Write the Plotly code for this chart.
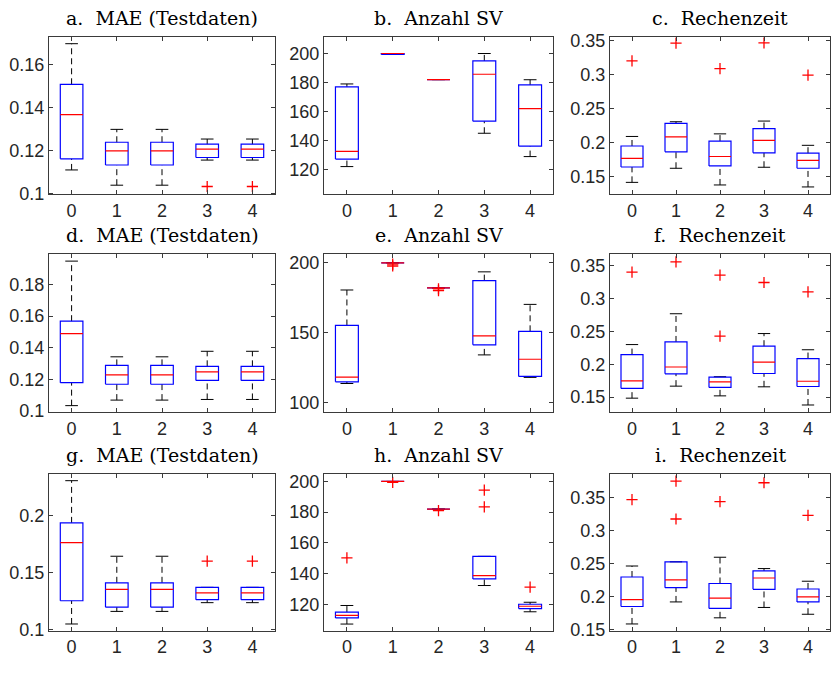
import plotly.graph_objects as go
from plotly.subplots import make_subplots

# ---------------- data ----------------
categories = ["0", "1", "2", "3", "4"]
positions = [1, 2, 3, 4, 5]

titles = [
    "a.  MAE (Testdaten)", "b.  Anzahl SV", "c.  Rechenzeit",
    "d.  MAE (Testdaten)", "e.  Anzahl SV", "f.  Rechenzeit",
    "g.  MAE (Testdaten)", "h.  Anzahl SV", "i.  Rechenzeit",
]

# lower whisker, Q1, median, Q3, upper whisker per panel (5 groups each)
whisker_low = [
    [0.1109, 0.1038, 0.1038, 0.1155, 0.1155],
    [122.0, 199.3, 182.0, 145.0, 128.9],
    [0.1413, 0.1620, 0.1375, 0.1635, 0.1346],
    [0.1035, 0.1070, 0.1070, 0.1074, 0.1074],
    [113.5, 200.0, 182.0, 134.0, 117.9],
    [0.1485, 0.1668, 0.1520, 0.1658, 0.1381],
    [0.1046, 0.1157, 0.1157, 0.1234, 0.1234],
    [107.1, 200.0, 182.0, 132.2, 115.1],
    [0.1584, 0.1918, 0.1677, 0.1834, 0.1731],
]
quart_1 = [
    [0.1161, 0.1132, 0.1132, 0.1167, 0.1167],
    [127.2, 199.3, 182.0, 153.3, 136.1],
    [0.1639, 0.1861, 0.1654, 0.1846, 0.1620],
    [0.1180, 0.1170, 0.1170, 0.1194, 0.1194],
    [114.7, 200.0, 182.0, 141.2, 118.6],
    [0.1634, 0.1856, 0.1649, 0.1861, 0.1663],
    [0.1251, 0.1194, 0.1194, 0.1260, 0.1260],
    [111.1, 200.0, 182.0, 136.5, 117.2],
    [0.1849, 0.2134, 0.1819, 0.2109, 0.1918],
]
medians = [
    [0.1367, 0.1198, 0.1198, 0.1206, 0.1206],
    [132.5, 200.0, 182.0, 185.7, 162.0],
    [0.1764, 0.2082, 0.1793, 0.2029, 0.1736],
    [0.1490, 0.1229, 0.1229, 0.1248, 0.1248],
    [118.1, 200.0, 182.0, 147.7, 130.9],
    [0.1748, 0.1960, 0.1733, 0.2035, 0.1743],
    [0.1763, 0.1351, 0.1351, 0.1320, 0.1320],
    [112.8, 200.0, 182.0, 138.6, 118.7],
    [0.1952, 0.2252, 0.1977, 0.2281, 0.1996],
]
quart_3 = [
    [0.1508, 0.1238, 0.1238, 0.1229, 0.1229],
    [177.0, 200.0, 182.0, 194.9, 178.3],
    [0.1947, 0.2279, 0.2019, 0.2202, 0.1841],
    [0.1568, 0.1289, 0.1289, 0.1283, 0.1283],
    [155.1, 200.0, 182.0, 187.2, 150.9],
    [0.2149, 0.2342, 0.1807, 0.2277, 0.2089],
    [0.1937, 0.1409, 0.1409, 0.1369, 0.1369],
    [114.9, 200.0, 182.0, 151.2, 120.0],
    [0.2296, 0.2527, 0.2198, 0.2389, 0.2114],
]
whisker_high = [
    [0.1697, 0.1298, 0.1298, 0.1253, 0.1253],
    [179.0, 200.0, 182.0, 200.0, 181.9],
    [0.2087, 0.2303, 0.2125, 0.2313, 0.1957],
    [0.1947, 0.1343, 0.1343, 0.1378, 0.1378],
    [180.5, 200.0, 182.0, 193.5, 170.2],
    [0.2302, 0.2772, 0.1812, 0.2470, 0.2223],
    [0.2309, 0.1643, 0.1643, 0.1369, 0.1369],
    [119.2, 200.0, 182.0, 151.2, 121.3],
    [0.2463, 0.2527, 0.2596, 0.2424, 0.2232],
]
# outliers: (group position, value)
outlier_pos = [
    [4, 5],
    [],
    [1, 2, 3, 4, 5],
    [],
    [2, 2, 3, 3],
    [1, 2, 3, 3, 4, 5],
    [4, 5],
    [1, 2, 3, 4, 4, 5],
    [1, 2, 2, 3, 4, 5],
]
outlier_val = [
    [0.1032, 0.1032],
    [],
    [0.3197, 0.3457, 0.3082, 0.3462, 0.2986],
    [],
    [199.0, 197.7, 181.4, 180.0],
    [0.3406, 0.3564, 0.3361, 0.2431, 0.3248, 0.3104],
    [0.1600, 0.1600],
    [150.2, 199.4, 181.0, 194.3, 183.5, 131.2],
    [0.3470, 0.3751, 0.3176, 0.3441, 0.3726, 0.3230],
]

y_ranges = [
    [0.0995, 0.1727], [102.8, 211.2], [0.1236, 0.3543],
    [0.0994, 0.1992], [93.0, 206.3], [0.1272, 0.3683],
    [0.0986, 0.2371], [102.7, 205.1], [0.1480, 0.3864],
]
y_tickvals = [
    [0.1, 0.12, 0.14, 0.16], [120, 140, 160, 180, 200], [0.15, 0.2, 0.25, 0.3, 0.35],
    [0.1, 0.12, 0.14, 0.16, 0.18], [100, 150, 200], [0.15, 0.2, 0.25, 0.3, 0.35],
    [0.1, 0.15, 0.2], [120, 140, 160, 180, 200], [0.15, 0.2, 0.25, 0.3, 0.35],
]
y_ticktext = [
    ["0.1", "0.12", "0.14", "0.16"], ["120", "140", "160", "180", "200"],
    ["0.15", "0.2", "0.25", "0.3", "0.35"],
    ["0.1", "0.12", "0.14", "0.16", "0.18"], ["100", "150", "200"],
    ["0.15", "0.2", "0.25", "0.3", "0.35"],
    ["0.1", "0.15", "0.2"], ["120", "140", "160", "180", "200"],
    ["0.15", "0.2", "0.25", "0.3", "0.35"],
]

# ---------------- layout ----------------
W, H = 831, 673
col_px = [(49, 275), (324, 553), (610, 830)]
row_px = [(31, 192), (253, 415), (478, 639)]
BOX_HALF = 0.25
CAP_HALF = 0.14

fig = make_subplots(rows=3, cols=3)

for k in range(9):
    r, c = divmod(k, 3)
    wx, wy, cx, cy, bx, by, mx, my = [], [], [], [], [], [], [], []
    for i, p in enumerate(positions):
        lo, q1, md, q3, hi = (whisker_low[k][i], quart_1[k][i], medians[k][i],
                              quart_3[k][i], whisker_high[k][i])
        wx += [p, p, None, p, p, None]
        wy += [q3, hi, None, lo, q1, None]
        cx += [p - CAP_HALF, p + CAP_HALF, None, p - CAP_HALF, p + CAP_HALF, None]
        cy += [hi, hi, None, lo, lo, None]
        bx += [p - BOX_HALF, p + BOX_HALF, p + BOX_HALF, p - BOX_HALF, p - BOX_HALF, None]
        by += [q1, q1, q3, q3, q1, None]
        mx += [p - BOX_HALF, p + BOX_HALF, None]
        my += [md, md, None]
    fig.add_trace(go.Scatter(x=wx, y=wy, mode="lines",
                             line=dict(color="black", width=1, dash="6px,4px"),
                             hoverinfo="skip"), row=r + 1, col=c + 1)
    fig.add_trace(go.Scatter(x=cx, y=cy, mode="lines",
                             line=dict(color="black", width=1), hoverinfo="skip"),
                  row=r + 1, col=c + 1)
    fig.add_trace(go.Scatter(x=bx, y=by, mode="lines",
                             line=dict(color="#0000ff", width=1.2), hoverinfo="skip"),
                  row=r + 1, col=c + 1)
    fig.add_trace(go.Scatter(x=mx, y=my, mode="lines",
                             line=dict(color="#ff0000", width=1.2), hoverinfo="skip"),
                  row=r + 1, col=c + 1)
    if outlier_pos[k]:
        fig.add_trace(go.Scatter(x=outlier_pos[k], y=outlier_val[k], mode="markers",
                                 marker=dict(symbol="cross-thin", size=8,
                                             line=dict(color="#ff0000", width=1.3)),
                                 hoverinfo="skip"), row=r + 1, col=c + 1)

    n = "" if k == 0 else str(k + 1)
    x0, x1 = col_px[c]
    y0, y1 = row_px[r]
    axis_style = dict(showline=True, linecolor="#3a3a3a", linewidth=1, mirror="ticks",
                      ticks="inside", ticklen=4, tickcolor="#3a3a3a", showgrid=False,
                      zeroline=False,
                      tickfont=dict(family="Liberation Sans, Arial", size=18, color="#262626"))
    fig.layout["xaxis" + n].update(domain=[x0 / W, x1 / W], range=[0.5, 5.5],
                                   tickvals=positions, ticktext=categories, **axis_style)
    fig.layout["yaxis" + n].update(domain=[1 - y1 / H, 1 - y0 / H], range=y_ranges[k],
                                   tickvals=y_tickvals[k], ticktext=y_ticktext[k],
                                   **axis_style)
    fig.add_annotation(text=titles[k], xref="paper", yref="paper",
                       x=(x0 + x1) / 2 / W, y=1 - (y0 - 6) / H,
                       xanchor="center", yanchor="bottom", showarrow=False,
                       font=dict(family="DejaVu Serif", size=19, color="black"))

fig.update_layout(width=W, height=H, margin=dict(l=0, r=0, t=0, b=0),
                  showlegend=False, plot_bgcolor="white", paper_bgcolor="white")

fig.write_html("out.html")
